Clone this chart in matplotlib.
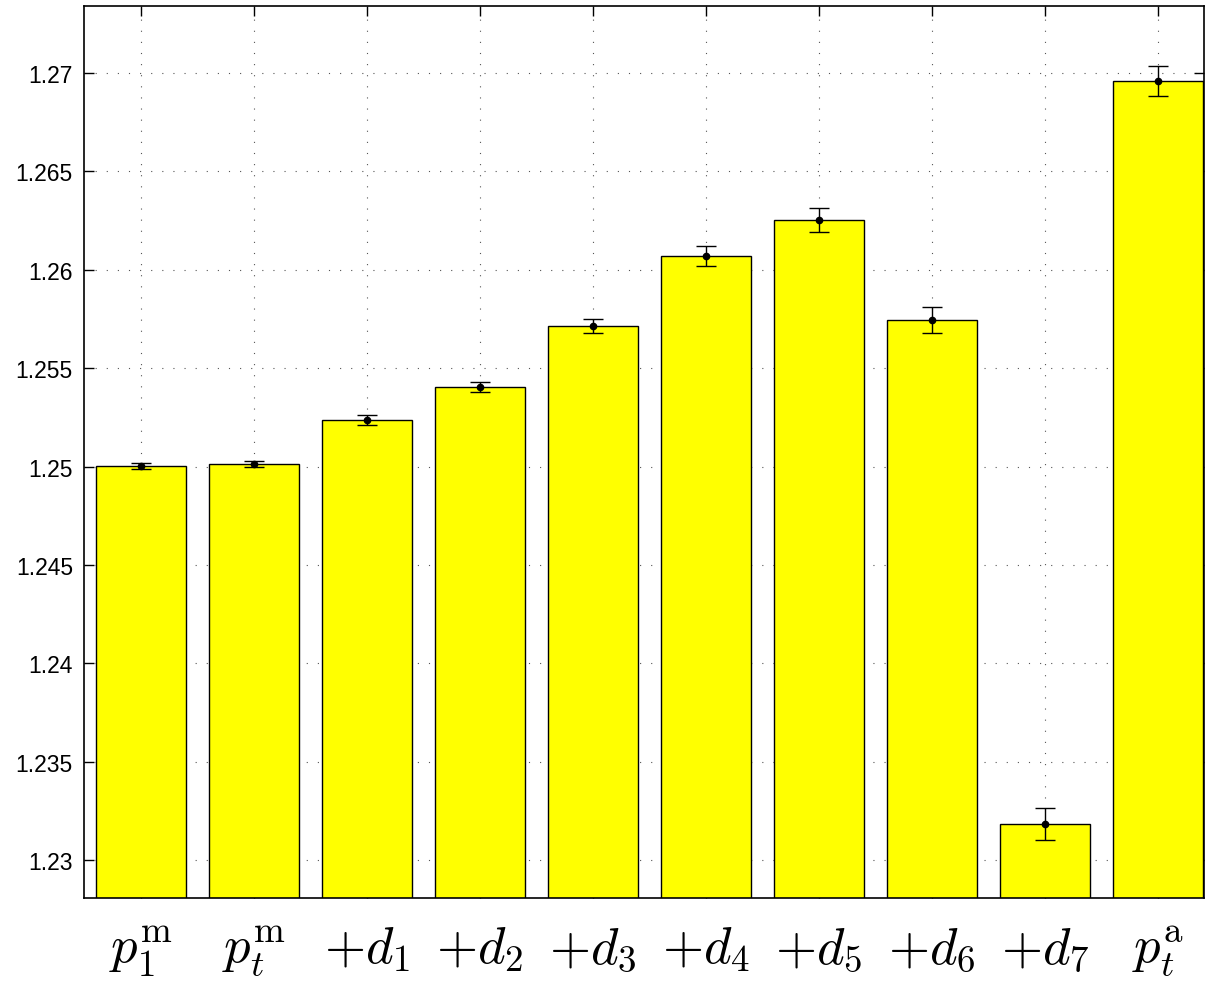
import numpy as np
import matplotlib
matplotlib.use("Agg")
import matplotlib.pyplot as plt

# data
labels = [r'$p_1^{\mathrm{m}}$', r'$p_t^{\mathrm{m}}$', r'$+d_1$', r'$+d_2$', r'$+d_3$',
          r'$+d_4$', r'$+d_5$', r'$+d_6$', r'$+d_7$', r'$p_t^{\mathrm{a}}$']
values = [1.25002, 1.25012, 1.25236, 1.25404, 1.25714,
          1.26070, 1.26253, 1.25745, 1.23183, 1.26959]
errors = [0.00015, 0.00015, 0.00025, 0.00023, 0.00038,
          0.00050, 0.00061, 0.00064, 0.00079, 0.00076]
yticks = [1.23, 1.235, 1.24, 1.245, 1.25, 1.255, 1.26, 1.265, 1.27]
ytick_labels = ['1.23', '1.235', '1.24', '1.245', '1.25', '1.255', '1.26', '1.265', '1.27']

plt.rcParams['mathtext.fontset'] = 'cm'
plt.rcParams['font.family'] = ['Liberation Sans', 'DejaVu Sans']

fig = plt.figure(figsize=(12.05, 9.87), dpi=100)
ax = fig.add_axes([84 / 1205, 1 - 899 / 987, 1120 / 1205, 892 / 987])

x = np.arange(1, len(values) + 1)
ax.bar(x, values, width=0.8, color='#ffff00', edgecolor='black', linewidth=1.0, zorder=2)
ax.errorbar(x, values, yerr=errors, fmt='.', color='black', ecolor='black',
            markersize=9, elinewidth=1.0, capsize=7.2, capthick=1.0, zorder=3)

ax.set_xlim(1 - 57 / 113, 1 + 1063 / 113)
ax.set_ylim(1.228069, 1.273405)
ax.set_yticks(yticks)
ax.set_yticklabels(ytick_labels, fontsize=16.5)
ax.set_xticks(x)
ax.set_xticklabels(labels, fontsize=38)

ax.grid(True, linestyle=(0, (1, 9)), linewidth=0.8, color='#555555')
ax.set_axisbelow(True)
ax.tick_params(axis='both', direction='in', length=7, width=1.0, top=True, right=True)
ax.tick_params(axis='y', pad=8)
ax.tick_params(axis='x', pad=18)
for side in ['left', 'top', 'right', 'bottom']:
    ax.spines[side].set_linewidth(1.2)
    ax.spines[side].set_zorder(4)

fig.savefig('out.png', dpi=100)
